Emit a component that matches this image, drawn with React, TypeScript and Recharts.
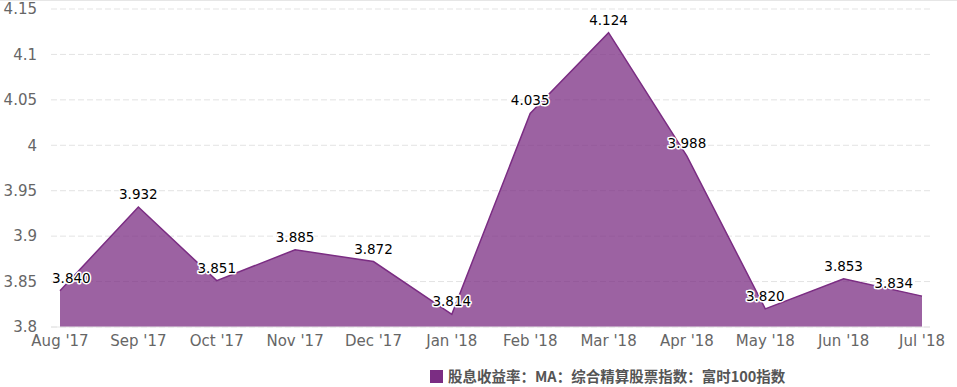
import React from 'react';
import { AreaChart, Area, XAxis, YAxis, CartesianGrid, LabelList } from 'recharts';

const months = ["Aug '17", "Sep '17", "Oct '17", "Nov '17", "Dec '17", "Jan '18", "Feb '18", "Mar '18", "Apr '18", "May '18", "Jun '18", "Jul '18"];
const yieldValues = [3.840, 3.932, 3.851, 3.885, 3.872, 3.814, 4.035, 4.124, 3.988, 3.820, 3.853, 3.834];
const yTicks = [3.8, 3.85, 3.9, 3.95, 4, 4.05, 4.1, 4.15];
const seriesName = '股息收益率：MA：综合精算股票指数：富时100指数';

const data = months.map((m, i) => ({ month: m, value: yieldValues[i] }));

const COLOR = '#7B2D83';

const ValueLabel = (props: any) => {
  const { x, y, value, index } = props;
  let anchor: 'middle' | 'start' | 'end' = 'middle';
  let tx = x;
  if (index === 0) { anchor = 'start'; tx = x - 8; }
  else if (index === yieldValues.length - 1) { anchor = 'end'; tx = x - 9; }
  return (
    <text
      x={tx}
      y={y - 8}
      textAnchor={anchor}
      fontFamily="DejaVu Sans"
      fontSize={13.5}
      fill="#000"
      stroke="#fff"
      strokeWidth={3}
      strokeLinejoin="round"
      style={{ paintOrder: 'stroke' }}
    >
      {Number(value).toFixed(3)}
    </text>
  );
};

export default function App() {
  return (
    <div style={{ position: 'fixed', left: 0, top: 0, width: 957, height: 387, background: '#fff' }}>
      <div style={{ position: 'absolute', left: 0, top: 0, width: 957, height: 1, background: '#e6e6e6' }} />
      <AreaChart width={957} height={387} data={data} margin={{ top: 9, right: 27, bottom: 30, left: 0 }}>
        <CartesianGrid vertical={false} stroke="#e3e3e3" strokeDasharray="6 3" />
        <XAxis
          dataKey="month"
          height={30}
          padding={{ left: 9, right: 8 }}
          tickLine={false}
          axisLine={{ stroke: '#e6e6e6' }}
          tick={{ fontFamily: 'DejaVu Sans', fontSize: 15, fill: '#666' }}
          tickSize={6}
          tickMargin={2}
          interval={0}
        />
        <YAxis
          width={51}
          domain={[3.8, 4.15]}
          ticks={yTicks}
          tickFormatter={(v: number) => String(v)}
          tickLine={false}
          axisLine={false}
          tick={{ fontFamily: 'DejaVu Sans', fontSize: 15, fill: '#666' }}
          tickSize={6}
          tickMargin={8}
          allowDataOverflow
        />
        <Area
          type="linear"
          dataKey="value"
          name={seriesName}
          stroke={COLOR}
          strokeWidth={1.5}
          fill={COLOR}
          fillOpacity={0.75}
          baseValue={3.8}
          isAnimationActive={false}
          dot={false}
          activeDot={false}
        >
          <LabelList dataKey="value" content={<ValueLabel />} />
        </Area>
      </AreaChart>
      <div style={{ position: 'absolute', left: 430, top: 367, display: 'flex', alignItems: 'center', fontFamily: '"Noto Sans CJK SC", sans-serif', fontSize: 14.5, fontWeight: 700, color: '#555', whiteSpace: 'nowrap', lineHeight: '18px' }}>
        <span style={{ display: 'inline-block', width: 13, height: 13, background: COLOR, marginRight: 5 }} />
        <span>{seriesName}</span>
      </div>
    </div>
  );
}
